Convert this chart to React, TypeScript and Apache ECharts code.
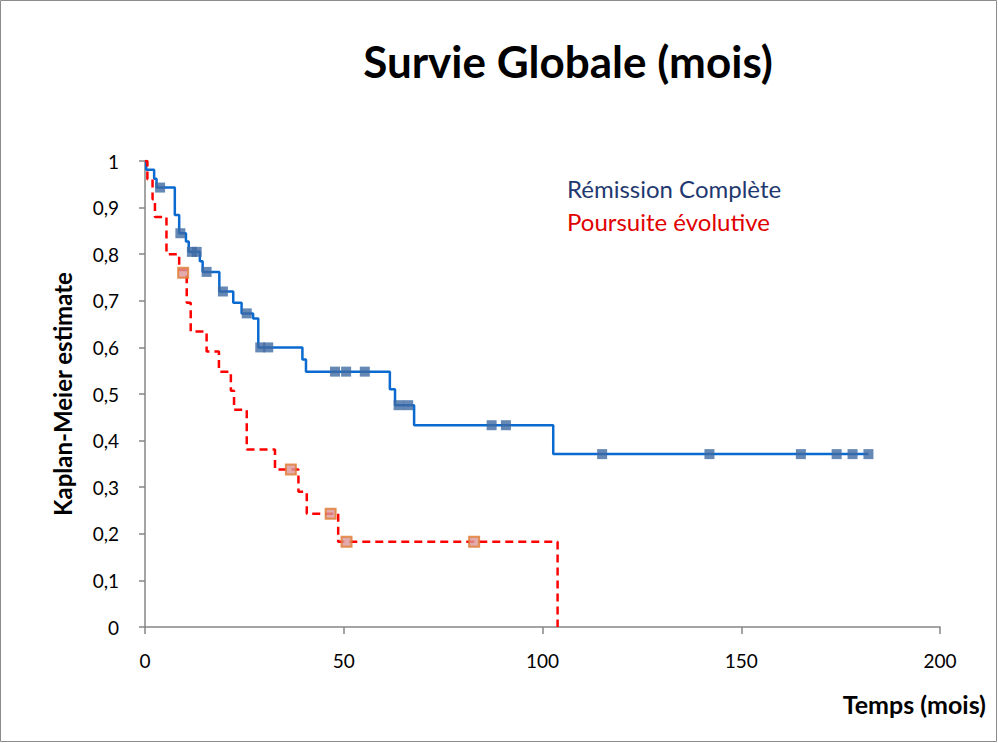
import React, { useEffect, useRef } from "react";
import * as echarts from "echarts";

// Kaplan-Meier step curves (time in months, survival after the event)
const blueTimes = [0, 0.3, 2.3, 2.9, 7.5, 8.6, 10.3, 11.0, 13.8, 14.5, 18.7, 22.2, 24.3, 27.2, 28.5, 39.6, 40.5, 61.6, 62.9, 67.7, 102.7, 182];
const blueSurv = [1, 0.981, 0.962, 0.943, 0.884, 0.845, 0.827, 0.805, 0.785, 0.762, 0.72, 0.696, 0.673, 0.662, 0.6, 0.574, 0.548, 0.51, 0.476, 0.433, 0.371, 0.371];
const blueCensTimes = [3.8, 8.9, 11.8, 13.0, 15.5, 19.6, 25.6, 29, 31, 47.8, 50.6, 55.3, 63.8, 66.2, 87.2, 90.8, 115, 142, 165, 174, 178, 182];
const blueCensSurv = [0.943, 0.845, 0.805, 0.805, 0.762, 0.72, 0.673, 0.6, 0.6, 0.548, 0.548, 0.548, 0.476, 0.476, 0.433, 0.433, 0.371, 0.371, 0.371, 0.371, 0.371, 0.371];

const redTimes = [0, 0.6, 1.9, 2.5, 5.4, 8.6, 10.5, 11.5, 15.5, 18.6, 21.6, 22.4, 25.6, 32.7, 38.6, 40.7, 48.6, 103.8];
const redSurv = [1, 0.961, 0.918, 0.88, 0.8, 0.766, 0.696, 0.634, 0.591, 0.548, 0.507, 0.466, 0.381, 0.338, 0.29, 0.243, 0.183, 0];
const redCensTimes = [9.6, 36.7, 46.7, 50.7, 82.8];
const redCensSurv = [0.76, 0.338, 0.243, 0.183, 0.183];

const seriesNames = ["Rémission Complète", "Poursuite évolutive"];
const titleText = "Survie Globale (mois)";
const yAxisTitle = "Kaplan-Meier estimate";
const xAxisTitle = "Temps (mois)";

const FONT = "Lato, 'Open Sans', sans-serif";

export default function App() {
  const ref = useRef<HTMLDivElement>(null);
  useEffect(() => {
    document.body.style.margin = "0";
    const chart = echarts.init(ref.current!, null, { renderer: "svg" });
    const zip = (a: number[], b: number[]) => a.map((v, i) => [v, b[i]]);
    chart.setOption({
      animation: false,
      backgroundColor: "#ffffff",
      title: {
        text: titleText,
        left: 563,
        top: 34,
        textAlign: "center",
        textStyle: { fontSize: 44, fontWeight: "bold", color: "#000", fontFamily: FONT },
      },
      grid: { left: 145, right: 58, top: 161, bottom: 116 },
      xAxis: {
        type: "value",
        min: 0,
        max: 200,
        interval: 50,
        axisLine: { lineStyle: { color: "#868686", width: 1.5 } },
        axisTick: { show: true, length: 7, lineStyle: { color: "#868686", width: 1.5 } },
        axisLabel: { margin: 24, fontSize: 19, color: "#000", fontFamily: FONT },
        splitLine: { show: false },
      },
      yAxis: {
        type: "value",
        min: 0,
        max: 1,
        interval: 0.1,
        axisLine: { show: true, lineStyle: { color: "#868686", width: 1.5 } },
        axisTick: { show: true, length: 6, lineStyle: { color: "#868686", width: 1.5 } },
        axisLabel: {
          margin: 26,
          fontSize: 19,
          color: "#000",
          fontFamily: FONT,
          formatter: (v: number) => String(Math.round(v * 10) / 10).replace(".", ","),
        },
        splitLine: { show: false },
      },
      graphic: [
        {
          type: "rect",
          shape: { x: 0.5, y: 0.5, width: 996, height: 741 },
          style: { fill: "none", stroke: "#8c8c8c", lineWidth: 1 },
          silent: true,
        },
        {
          type: "text",
          x: 62,
          y: 394,
          rotation: Math.PI / 2,
          style: {
            text: yAxisTitle,
            fontSize: 24,
            fontWeight: "bold",
            fill: "#000",
            fontFamily: FONT,
            textAlign: "center",
            textVerticalAlign: "middle",
          },
        },
        {
          type: "text",
          x: 986,
          y: 704,
          style: {
            text: xAxisTitle,
            fontSize: 25,
            fontWeight: "bold",
            fill: "#000",
            fontFamily: FONT,
            textAlign: "right",
            textVerticalAlign: "middle",
          },
        },
        {
          type: "text",
          x: 567,
          y: 188,
          style: {
            text: seriesNames[0],
            fontSize: 24,
            fill: "#1F3970",
            fontFamily: FONT,
            textAlign: "left",
            textVerticalAlign: "middle",
          },
        },
        {
          type: "text",
          x: 567,
          y: 221,
          style: {
            text: seriesNames[1],
            fontSize: 24,
            fill: "#E00000",
            fontFamily: FONT,
            textAlign: "left",
            textVerticalAlign: "middle",
          },
        },
      ],
      series: [
        {
          name: seriesNames[0],
          type: "line",
          step: "end",
          data: zip(blueTimes, blueSurv),
          showSymbol: false,
          symbol: "none",
          lineStyle: { color: "#0A6AD0", width: 2.5 },
          z: 2,
        },
        {
          name: seriesNames[1],
          type: "line",
          step: "end",
          data: zip(redTimes, redSurv),
          showSymbol: false,
          symbol: "none",
          lineStyle: { color: "#FF0000", width: 2.5, type: [8, 5] },
          z: 2,
        },
        {
          name: seriesNames[0] + " censure",
          type: "scatter",
          symbol: "rect",
          symbolSize: 10,
          data: zip(blueCensTimes, blueCensSurv),
          itemStyle: { color: "#3F6AA3" },
          z: 3,
        },
        {
          name: seriesNames[1] + " censure",
          type: "scatter",
          symbol: "rect",
          symbolSize: 10,
          data: zip(redCensTimes, redCensSurv),
          itemStyle: { color: "#DC9696", borderColor: "#E07A30", borderWidth: 2 },
          z: 3,
        },
      ],
    });
    return () => chart.dispose();
  }, []);
  return <div ref={ref} style={{ width: 998, height: 743 }} />;
}
